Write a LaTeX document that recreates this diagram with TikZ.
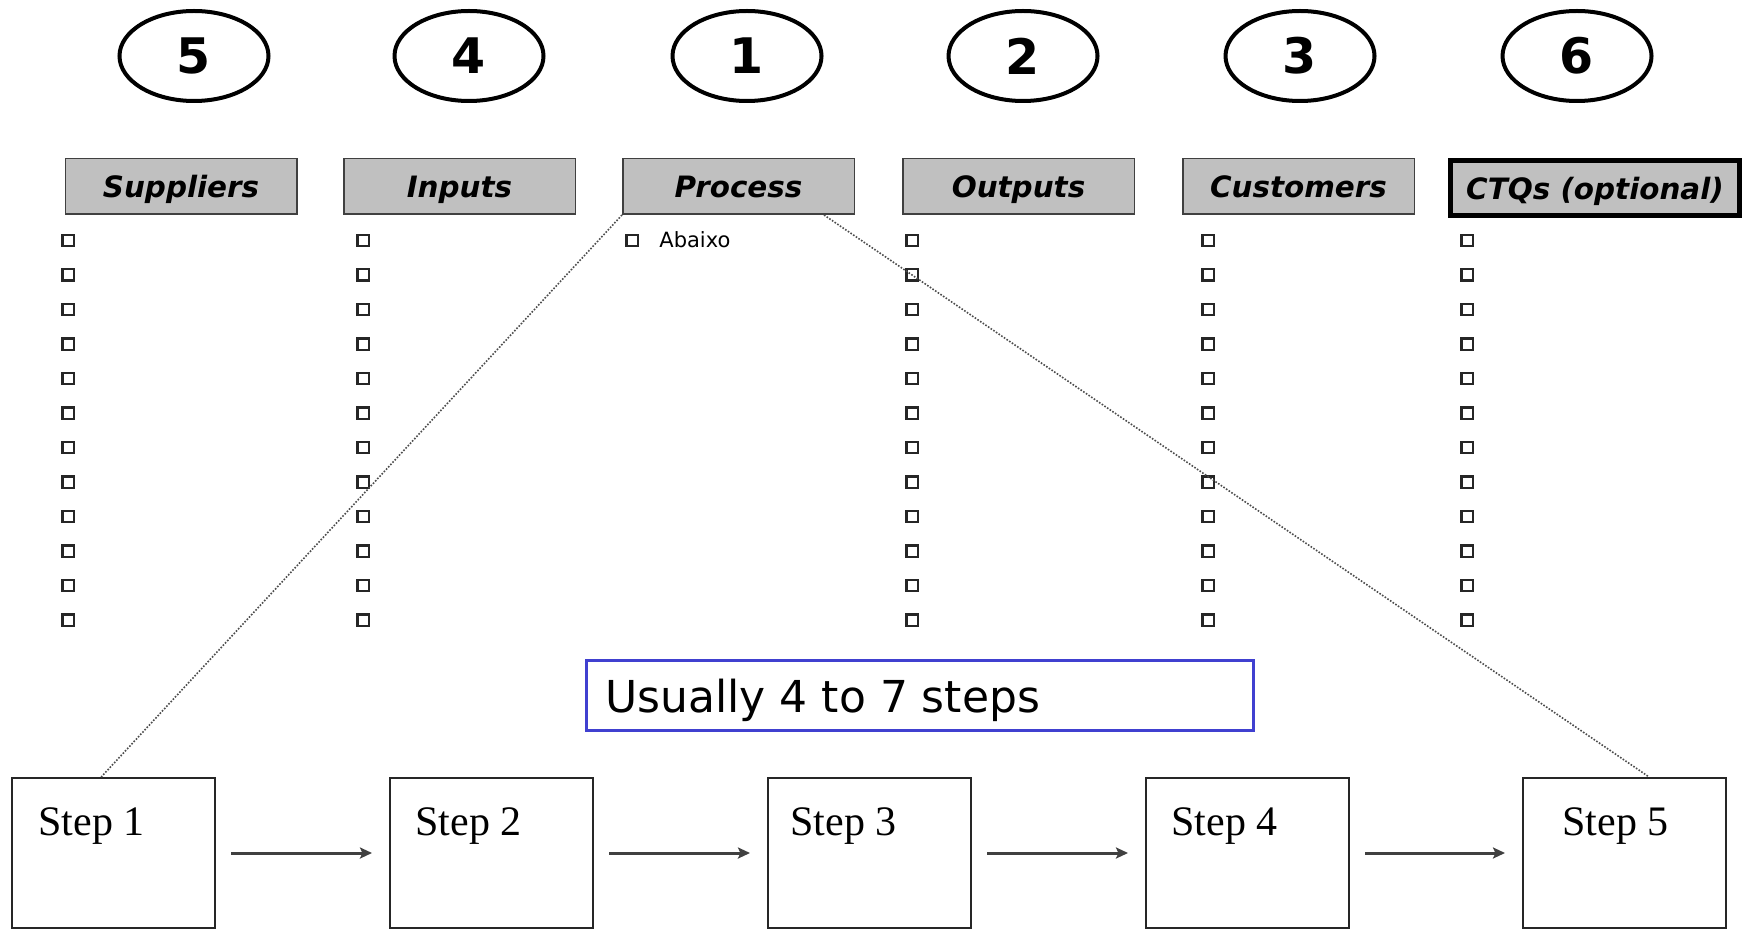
\documentclass[tikz,border=0pt]{standalone}
\usepackage{fontspec}
\newfontfamily\verd{DejaVu Sans}
\newfontfamily\tms{Liberation Serif}
\usetikzlibrary{shapes.geometric,calc,arrows.meta}
\definecolor{headgray}{RGB}{192,192,192}
\definecolor{noteblue}{RGB}{64,64,208}
\begin{document}
\begin{tikzpicture}[x=0.5pt,y=-0.5pt,
  num/.style={ellipse,draw,line width=2pt,minimum width=74.5pt,minimum height=45pt,inner sep=0pt,
    font=\verd\bfseries\fontsize{24.5pt}{28pt}\selectfont},
  head/.style={rectangle,draw=black!75,line width=0.75pt,fill=headgray,minimum width=115.75pt,
    minimum height=27.75pt,inner sep=0pt,text height=11.5pt,text depth=0pt,
    font=\verd\bfseries\itshape\fontsize{14.7pt}{17pt}\selectfont},
  headthick/.style={head,draw=black,line width=2.5pt,minimum width=144.5pt,minimum height=27.5pt},
  chk/.style={rectangle,draw=black!85,line width=1.1pt,minimum size=5.6pt,inner sep=0pt},
  small/.style={anchor=base west,inner sep=0pt,font=\verd\fontsize{10.5pt}{12pt}\selectfont},
  notebox/.style={rectangle,draw=noteblue,line width=1.5pt,minimum width=333.5pt,minimum height=35pt,inner sep=0pt},
  notetext/.style={anchor=base west,inner sep=0pt,font=\verd\fontsize{22pt}{26pt}\selectfont},
  stepbox/.style={rectangle,draw=black!85,line width=1pt,minimum width=101.5pt,minimum height=75pt,inner sep=0pt},
  steplbl/.style={anchor=base west,inner sep=0pt,font=\tms\fontsize{21pt}{24pt}\selectfont},
  flow/.style={draw=black!75,line width=1.5pt,-{Stealth[length=6pt,width=5.5pt,inset=1.2pt]},
    shorten <=7.5pt,shorten >=8.5pt},
  dotline/.style={draw=black!70,line width=0.8pt,dash pattern=on 0.8pt off 0.8pt}
]
\useasboundingbox (0,0) rectangle (1748,930);

% numbered ellipses
\node[num] (n5) at (194,56) {5};
\node[num] (n4) at (469,56) {4};
\node[num] (n1) at (747,56) {1};
\node[num] (n2) at (1023,56) {2};
\node[num] (n3) at (1300,56) {3};
\node[num] (n6) at (1577,56) {6};

% headers
\node[head] (sup) at (181,186.5) {Suppliers};
\node[head] (inp) at (459.5,186.5) {Inputs};
\node[head] (proc) at (738.5,186.5) {Process};
\node[head] (outp) at (1018.5,186.5) {Outputs};
\node[head] (cust) at (1298.5,186.5) {Customers};
\node[headthick] (ctq) at (1595,188) {CTQs (optional)};

% bullets
\foreach \c/\x in {s/68,i/363,o/912,c/1208,q/1467}{
  \foreach \r in {0,...,11}{
    \node[chk] (b-\c-\r) at (\x,{240.5+34.5*\r}) {};
  }
}
\node[chk] (b-p-0) at (632,240.5) {};
\node[small] (abaixo) at (659,248) {Abaixo};

% note
\node[notebox] (note) at (920,695.5) {};
\node[notetext] (notetxt) at (605,712) {Usually 4 to 7 steps};

% steps
\node[stepbox] (s1) at (113.5,853) {};
\node[stepbox] (s2) at (491.5,853) {};
\node[stepbox] (s3) at (869.5,853) {};
\node[stepbox] (s4) at (1247.5,853) {};
\node[stepbox] (s5) at (1624.5,853) {};
\node[steplbl] (t1) at (38,835) {Step 1};
\node[steplbl] (t2) at (415,835) {Step 2};
\node[steplbl] (t3) at (790,835) {Step 3};
\node[steplbl] (t4) at (1171,835) {Step 4};
\node[steplbl] (t5) at (1562,835) {Step 5};

\draw[flow] (s1.east) -- (s2.west);
\draw[flow] (s2.east) -- (s3.west);
\draw[flow] (s3.east) -- (s4.west);
\draw[flow] (s4.east) -- (s5.west);

% dotted zoom lines
\draw[dotline] (proc.south west) -- ($(s1.north west)!0.44!(s1.north east)$);
\draw[dotline] ($(proc.south west)!0.867!(proc.south east)$) -- ($(s5.north west)!0.62!(s5.north east)$);
\end{tikzpicture}
\end{document}
